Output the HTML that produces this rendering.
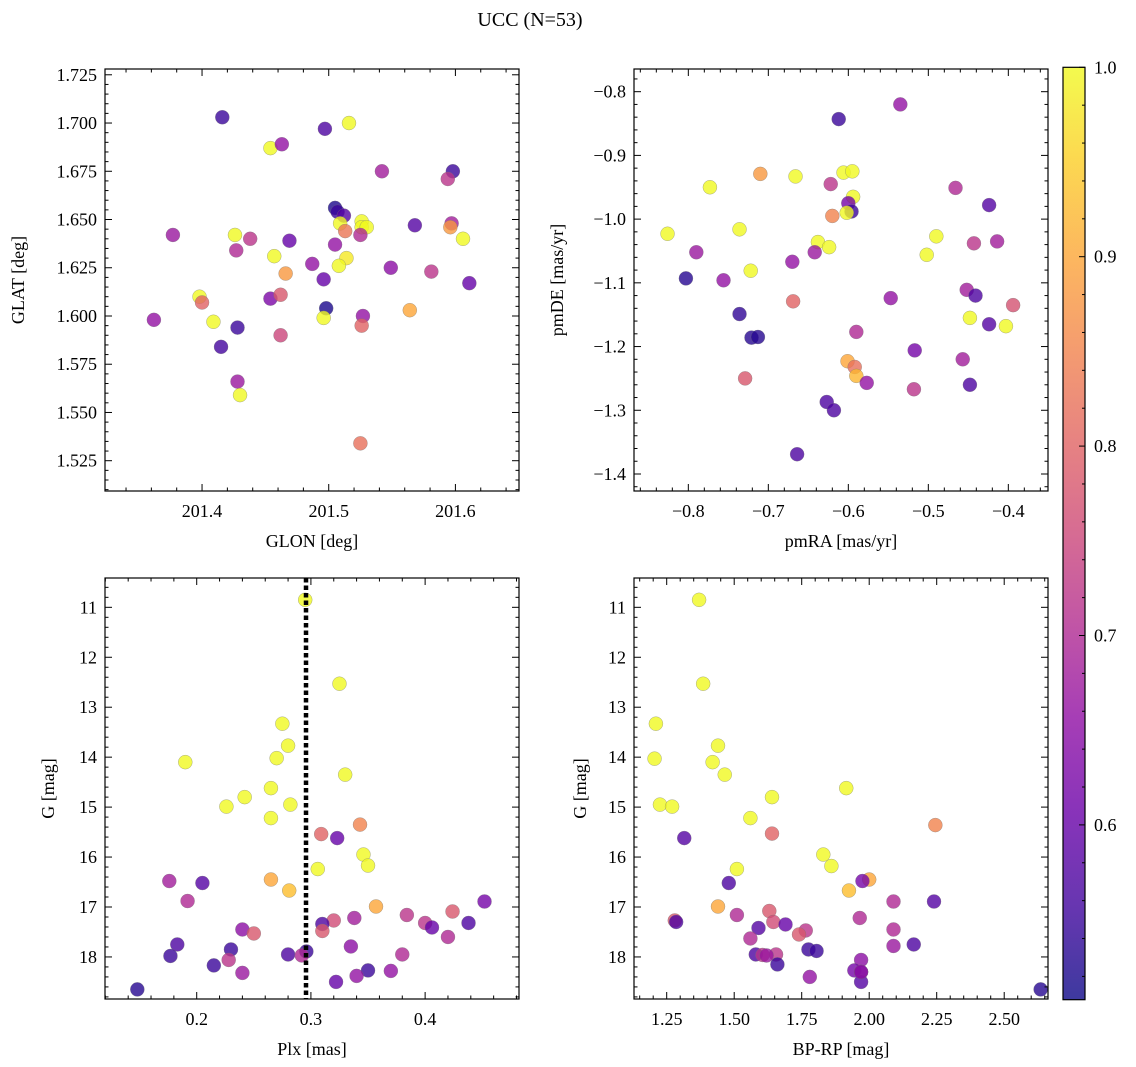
<!DOCTYPE html>
<html><head><meta charset="utf-8">
<style>
html,body{margin:0;padding:0;background:#fff;}
svg{display:block;font-family:"Liberation Serif","DejaVu Serif",serif;}
</style></head>
<body>
<svg id="fig" width="1136" height="1067" viewBox="0 0 1136 1067" xmlns="http://www.w3.org/2000/svg">
<defs>
<linearGradient id="plasma" x1="0" y1="1" x2="0" y2="0">
<stop offset="0" stop-color="#0d0887"/><stop offset="0.1" stop-color="#41049d"/><stop offset="0.2" stop-color="#6a00a8"/><stop offset="0.3" stop-color="#8f0da4"/><stop offset="0.4" stop-color="#b12a90"/><stop offset="0.5" stop-color="#cc4778"/><stop offset="0.6" stop-color="#e16462"/><stop offset="0.7" stop-color="#f2844b"/><stop offset="0.8" stop-color="#fca636"/><stop offset="0.9" stop-color="#fcce25"/><stop offset="1" stop-color="#f0f921"/>
</linearGradient>
</defs>
<text x="530" y="26" font-size="20" text-anchor="middle">UCC (N=53)</text>
</svg>
<script>
// ---- data ----
const glon=[201.416,201.497,201.516,201.454,201.463,201.542,201.598,201.594,201.505,201.507,201.512,201.526,201.509,201.526,201.530,201.568,201.597,201.596,201.513,201.525,201.606,201.377,201.426,201.438,201.469,201.427,201.505,201.457,201.514,201.508,201.487,201.466,201.549,201.581,201.496,201.611,201.398,201.400,201.454,201.462,201.362,201.409,201.428,201.498,201.496,201.527,201.526,201.564,201.462,201.415,201.428,201.430,201.525];
const glat=[1.703,1.697,1.700,1.687,1.689,1.675,1.675,1.671,1.656,1.654,1.652,1.649,1.648,1.646,1.646,1.647,1.648,1.646,1.644,1.642,1.640,1.642,1.642,1.640,1.639,1.634,1.637,1.631,1.630,1.626,1.627,1.622,1.625,1.623,1.619,1.617,1.610,1.607,1.609,1.611,1.598,1.597,1.594,1.604,1.599,1.600,1.595,1.603,1.590,1.584,1.566,1.559,1.534];
const probGal=[0.55,0.57,1.0,1.0,0.66,0.68,0.55,0.72,0.52,0.55,0.58,1.0,1.0,1.0,1.0,0.58,0.68,0.88,0.83,0.70,1.0,0.67,1.0,0.72,0.60,0.70,0.66,1.0,0.98,1.0,0.66,0.88,0.65,0.72,0.60,0.60,1.0,0.80,0.63,0.78,0.66,1.0,0.55,0.52,1.0,0.66,0.80,0.90,0.75,0.56,0.67,1.0,0.82];
const pmra=[-0.535,-0.612,-0.710,-0.666,-0.606,-0.595,-0.773,-0.622,-0.466,-0.594,-0.600,-0.596,-0.602,-0.620,-0.424,-0.826,-0.490,-0.443,-0.414,-0.736,-0.638,-0.624,-0.790,-0.642,-0.502,-0.670,-0.722,-0.756,-0.803,-0.547,-0.452,-0.441,-0.669,-0.394,-0.448,-0.403,-0.424,-0.736,-0.721,-0.713,-0.590,-0.517,-0.601,-0.592,-0.590,-0.577,-0.729,-0.457,-0.518,-0.448,-0.627,-0.618,-0.664];
const pmde=[-0.820,-0.843,-0.929,-0.933,-0.927,-0.925,-0.950,-0.945,-0.951,-0.965,-0.975,-0.988,-0.990,-0.995,-0.978,-1.023,-1.027,-1.038,-1.035,-1.016,-1.036,-1.044,-1.052,-1.052,-1.056,-1.067,-1.081,-1.096,-1.093,-1.124,-1.111,-1.120,-1.129,-1.135,-1.155,-1.168,-1.165,-1.149,-1.186,-1.185,-1.177,-1.206,-1.223,-1.232,-1.246,-1.257,-1.250,-1.220,-1.267,-1.260,-1.287,-1.300,-1.369];
const probPm=[0.66,0.55,0.88,1.0,1.0,1.0,1.0,0.72,0.70,1.0,0.62,0.55,1.0,0.85,0.58,1.0,1.0,0.72,0.68,1.0,1.0,1.0,0.67,0.67,1.0,0.66,1.0,0.66,0.53,0.66,0.68,0.57,0.80,0.77,1.0,1.0,0.58,0.54,0.53,0.53,0.70,0.62,0.90,0.82,0.92,0.66,0.78,0.68,0.72,0.57,0.57,0.57,0.57];
const plx=[0.295,0.325,0.275,0.280,0.270,0.190,0.330,0.265,0.242,0.282,0.226,0.265,0.309,0.343,0.323,0.346,0.306,0.350,0.176,0.205,0.265,0.281,0.192,0.452,0.357,0.424,0.384,0.438,0.400,0.406,0.338,0.320,0.310,0.310,0.240,0.250,0.420,0.183,0.335,0.230,0.177,0.280,0.296,0.292,0.380,0.228,0.215,0.350,0.370,0.240,0.340,0.322,0.148];
const gPlx=[10.85,12.53,13.33,13.77,14.02,14.10,14.35,14.62,14.80,14.95,14.99,15.22,15.54,15.35,15.62,15.95,16.24,16.17,16.48,16.52,16.45,16.67,16.88,16.89,16.99,17.09,17.16,17.32,17.32,17.41,17.22,17.27,17.34,17.48,17.45,17.53,17.60,17.75,17.79,17.85,17.98,17.95,17.89,17.97,17.95,18.06,18.17,18.27,18.28,18.32,18.38,18.50,18.65];
const probPlx=[1.0,1.0,1.0,1.0,1.0,1.0,1.0,1.0,1.0,1.0,1.0,1.0,0.80,0.85,0.60,1.0,1.0,1.0,0.68,0.58,0.90,0.93,0.70,0.62,0.90,0.78,0.72,0.57,0.72,0.60,0.68,0.76,0.57,0.78,0.65,0.78,0.70,0.57,0.65,0.55,0.55,0.57,0.55,0.70,0.70,0.72,0.55,0.55,0.66,0.67,0.66,0.60,0.53];
const bprp=[1.37,1.385,1.21,1.44,1.205,1.42,1.465,1.915,1.225,1.27,1.56,1.315,1.64,2.245,1.64,1.83,1.86,1.51,1.48,2.0,1.925,1.975,1.44,1.51,2.24,2.09,1.63,1.28,1.285,1.645,1.69,1.965,1.59,2.09,1.765,1.74,1.56,2.09,2.165,1.775,1.805,1.58,1.605,1.655,1.62,1.66,1.97,1.945,1.97,1.97,1.78,1.97,2.635];
const gCmd=[10.85,12.53,13.33,13.77,14.03,14.10,14.35,14.62,14.95,14.99,15.22,15.62,14.80,15.36,15.53,15.95,16.18,16.24,16.52,16.45,16.67,16.48,16.99,17.16,16.89,16.89,17.08,17.27,17.30,17.30,17.35,17.22,17.42,17.45,17.47,17.55,17.63,17.78,17.75,17.85,17.88,17.95,17.96,17.95,17.97,18.15,18.06,18.27,18.30,18.50,18.40,18.30,18.65];
const probCmd=[1.0,1.0,1.0,1.0,1.0,1.0,1.0,1.0,1.0,1.0,1.0,0.58,1.0,0.85,0.80,1.0,1.0,1.0,0.57,0.90,0.93,0.62,0.90,0.70,0.58,0.70,0.78,0.78,0.57,0.76,0.60,0.70,0.58,0.70,0.72,0.78,0.70,0.67,0.57,0.55,0.55,0.57,0.72,0.72,0.67,0.55,0.65,0.62,0.58,0.58,0.66,0.66,0.53];
const plxLine=[0.2957];
const cbTicks=[0.6,0.7,0.8,0.9,1.0];
const cbMin=0.5077, cbMax=1.0;

const NS="http://www.w3.org/2000/svg";
const svg=document.getElementById('fig');
function mk(tag,attrs,parent){const e=document.createElementNS(NS,tag);for(const k in attrs)e.setAttribute(k,attrs[k]);(parent||svg).appendChild(e);return e;}
const stops=[[13,8,135],[65,4,157],[106,0,168],[143,13,164],[177,42,144],[204,71,120],[225,100,98],[242,132,75],[252,166,54],[252,206,37],[240,249,33]];
function plasma(v){let t=(v-cbMin)/(cbMax-cbMin);t=Math.max(0,Math.min(1,t))*10;const i=Math.min(9,Math.floor(t)),f=t-i;const a=stops[i],b=stops[i+1];return `rgb(${Math.round(a[0]+(b[0]-a[0])*f)},${Math.round(a[1]+(b[1]-a[1])*f)},${Math.round(a[2]+(b[2]-a[2])*f)})`;}
function fmt(v,d){let s=v.toFixed(d);if(v<0)s='\u2212'+s.slice(1);return s;}

function panel(o){
  const g=mk('g',{});
  
  
  const sx=v=>o.x0+(v-o.xd[0])/(o.xd[1]-o.xd[0])*(o.x1-o.x0);
  const sy=o.inv?(v=>o.y0+(v-o.yd[0])/(o.yd[1]-o.yd[0])*(o.y1-o.y0)):(v=>o.y1-(v-o.yd[0])/(o.yd[1]-o.yd[0])*(o.y1-o.y0));
  const pg=mk('g',{},g);
  
  
  o.xs.forEach((xv,i)=>{
    const c=mk('circle',{cx:sx(xv),cy:sy(o.ys[i]),r:7,fill:plasma(o.cs[i]),'fill-opacity':0.8,stroke:'#777','stroke-width':0.5,'stroke-opacity':0.6},pg);
    
    
  });
  if(o.vline){o.vline.forEach(v=>{const l=mk('line',{x1:sx(v),x2:sx(v),y1:o.y0,y2:o.y1,stroke:'#000','stroke-width':4.5,'stroke-dasharray':'4.5 3'},g);
    
    });}
  const tg=mk('g',{stroke:'#000','stroke-width':1},g);
  const eps=1e-9;
  for(let v=Math.ceil(o.xd[0]/o.xmin-eps)*o.xmin;v<=o.xd[1]+eps;v+=o.xmin){
    const isMaj=Math.abs(v/o.xmaj-Math.round(v/o.xmaj))<1e-6;const L=isMaj?7:3.5;const X=sx(v);
    mk('line',{x1:X,x2:X,y1:o.y1,y2:o.y1-L},tg);mk('line',{x1:X,x2:X,y1:o.y0,y2:o.y0+L},tg);
  }
  for(let v=Math.ceil(o.yd[0]/o.ymin-eps)*o.ymin;v<=o.yd[1]+eps;v+=o.ymin){
    const isMaj=Math.abs(v/o.ymaj-Math.round(v/o.ymaj))<1e-6;const L=isMaj?7:3.5;const Y=sy(v);
    mk('line',{x1:o.x0,x2:o.x0+L,y1:Y,y2:Y},tg);mk('line',{x1:o.x1,x2:o.x1-L,y1:Y,y2:Y},tg);
  }
  o.xt.forEach(v=>{const t=mk('text',{x:sx(v),y:o.y1+26,'font-size':18,'text-anchor':'middle'},g);t.textContent=fmt(v,o.xdec);
    
    });
  o.yt.forEach(v=>{const t=mk('text',{x:o.x0-8,y:sy(v)+6,'font-size':18,'text-anchor':'end'},g);t.textContent=fmt(v,o.ydec);
    
    });
  mk('rect',{x:o.x0,y:o.y0,width:o.x1-o.x0,height:o.y1-o.y0,fill:'none',stroke:'#000','stroke-width':1.2},g);
  const xl=mk('text',{x:(o.x0+o.x1)/2,y:o.y1+56,'font-size':18,'text-anchor':'middle'},g);xl.textContent=o.xlab;
  
  
  const yl=mk('text',{x:0,y:0,'font-size':18,'text-anchor':'middle',transform:`translate(${o.ylx},${(o.y0+o.y1)/2}) rotate(-90)`},g);yl.textContent=o.ylab;
  
  
}

panel({name:'glon-glat-panel',x0:105,x1:519,y0:69,y1:491,xd:[201.3234,201.6502],yd:[1.5093,1.7280],xs:glon,ys:glat,cs:probGal,
 xmaj:0.1,xmin:0.02,ymaj:0.025,ymin:0.005,xt:[201.4,201.5,201.6],yt:[1.525,1.55,1.575,1.6,1.625,1.65,1.675,1.7,1.725],xdec:1,ydec:3,xlab:'GLON [deg]',ylab:'GLAT [deg]',ylx:24});
panel({name:'proper-motion-panel',x0:634,x1:1048,y0:69,y1:491,xd:[-0.8679,-0.3504],yd:[-1.4267,-0.7644],xs:pmra,ys:pmde,cs:probPm,
 xmaj:0.1,xmin:0.02,ymaj:0.1,ymin:0.02,xt:[-0.8,-0.7,-0.6,-0.5,-0.4],yt:[-1.4,-1.3,-1.2,-1.1,-1.0,-0.9,-0.8],xdec:1,ydec:1,xlab:'pmRA [mas/yr]',ylab:'pmDE [mas/yr]',ylx:563});
panel({name:'parallax-magnitude-panel',x0:105,x1:519,y0:578,y1:999,xd:[0.1197,0.4822],yd:[10.413,18.842],xs:plx,ys:gPlx,cs:probPlx,inv:true,vline:plxLine,
 xmaj:0.1,xmin:0.02,ymaj:1,ymin:0.2,xt:[0.2,0.3,0.4],yt:[11,12,13,14,15,16,17,18],xdec:1,ydec:0,xlab:'Plx [mas]',ylab:'G [mag]',ylx:54});
panel({name:'color-magnitude-panel',x0:634,x1:1048,y0:578,y1:999,xd:[1.1289,2.6622],yd:[10.413,18.842],xs:bprp,ys:gCmd,cs:probCmd,inv:true,
 xmaj:0.25,xmin:0.05,ymaj:1,ymin:0.2,xt:[1.25,1.5,1.75,2.0,2.25,2.5],yt:[11,12,13,14,15,16,17,18],xdec:2,ydec:0,xlab:'BP-RP [mag]',ylab:'G [mag]',ylx:586});

(function(){
  const x0=1063,x1=1085,y0=67.3,y1=999.7;
  const g=mk('g',{});
  
  
  mk('rect',{x:x0,y:y0,width:x1-x0,height:y1-y0,fill:'url(#plasma)','fill-opacity':0.8},g);
  const sy=v=>y1-(v-cbMin)/(cbMax-cbMin)*(y1-y0);
  for(let v=0.52;v<=1.0001;v+=0.02){const Y=sy(v);const maj=Math.abs(v*10-Math.round(v*10))<1e-6;
    mk('line',{x1:x1,x2:x1-(maj?6:3),y1:Y,y2:Y,stroke:'#000','stroke-width':1},g);}
  cbTicks.forEach(v=>{const t=mk('text',{x:x1+9,y:sy(v)+6,'font-size':18},g);t.textContent=v.toFixed(1);
    
    });
  mk('rect',{x:x0,y:y0,width:x1-x0,height:y1-y0,fill:'none',stroke:'#000','stroke-width':1.2},g);
})();
</script>
</body></html>
